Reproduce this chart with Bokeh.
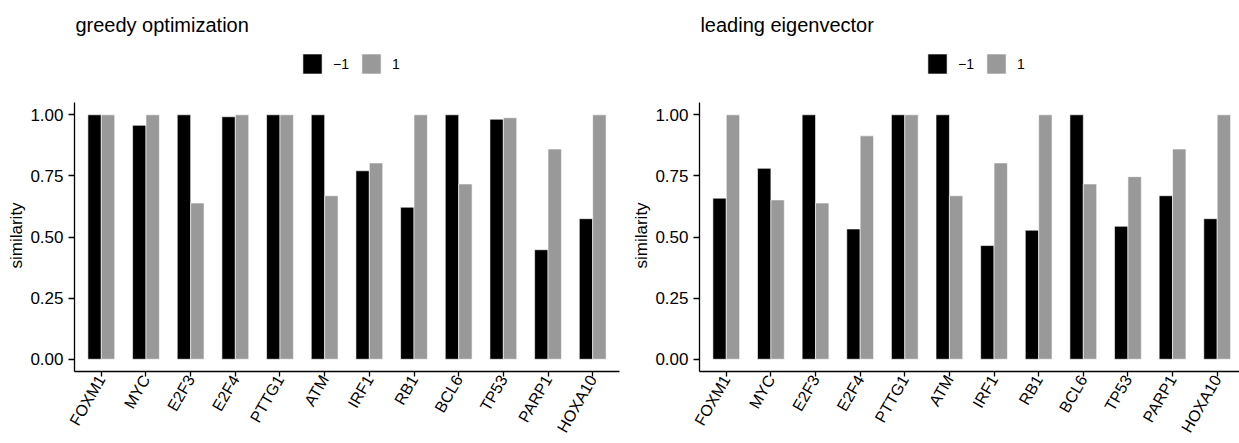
import numpy as np
from bokeh.plotting import figure
from bokeh.models import (Range1d, FixedTicker, Legend, LegendItem, Label,
                          Title, ColumnDataSource)
from bokeh.transform import dodge
from bokeh.layouts import row
from bokeh.embed import file_html
from bokeh.resources import INLINE

genes = ["FOXM1", "MYC", "E2F3", "E2F4", "PTTG1", "ATM", "IRF1", "RB1",
         "BCL6", "TP53", "PARP1", "HOXA10"]
greedy_neg = [1.00, 0.957, 1.00, 0.992, 1.00, 1.00, 0.771, 0.622, 1.00, 0.982, 0.448, 0.575]
greedy_pos = [1.00, 1.00, 0.639, 1.00, 1.00, 0.669, 0.803, 1.00, 0.717, 0.988, 0.860, 1.00]
eigen_neg = [0.659, 0.781, 1.00, 0.533, 1.00, 1.00, 0.465, 0.528, 1.00, 0.544, 0.669, 0.575]
eigen_pos = [1.00, 0.652, 0.639, 0.914, 1.00, 0.669, 0.803, 1.00, 0.717, 0.747, 0.860, 1.00]
panel_titles = ["greedy optimization", "leading eigenvector"]
y_title = "similarity"
groups = ["\u22121", "1"]
group_colors = ["#000000", "#999999"]
y_ticks = [0.0, 0.25, 0.5, 0.75, 1.0]
y_tick_labels = ["0.00", "0.25", "0.50", "0.75", "1.00"]

FONT = "Liberation Sans"
PX_PER_UNIT = 245.0       # vertical pixels per similarity unit
HEADER_PX = 102.3         # space above the panel for title and legend


def make_panel(title, neg, pos, width, left, right, x_end):
    idx = list(range(len(genes)))
    src = ColumnDataSource(dict(x=idx, neg=neg, pos=pos))
    y_top = 1.05 + HEADER_PX / PX_PER_UNIT
    p = figure(width=width, height=443, output_backend="svg", toolbar_location=None,
               x_range=Range1d(-0.6, x_end),
               y_range=Range1d(-0.05, y_top),
               min_border_left=left, min_border_right=right,
               min_border_top=0, min_border_bottom=72)
    p.title.visible = False
    r1 = p.vbar(x=dodge("x", -0.15), top="neg", width=0.3, source=src,
                fill_color=group_colors[0], line_color="white", line_width=0.6)
    r2 = p.vbar(x=dodge("x", 0.15), top="pos", width=0.3, source=src,
                fill_color=group_colors[1], line_color="white", line_width=0.6)
    p.outline_line_color = None
    p.grid.visible = False
    p.background_fill_color = "white"
    p.border_fill_color = "white"

    p.xaxis.ticker = FixedTicker(ticks=idx)
    p.xaxis.major_label_overrides = {i: g for i, g in enumerate(genes)}
    p.xaxis.major_label_orientation = np.pi / 3
    p.yaxis.ticker = FixedTicker(ticks=y_ticks)
    p.yaxis.major_label_overrides = {t: l for t, l in zip(y_ticks, y_tick_labels)}
    p.yaxis.bounds = (-0.05, 1.05)
    for ax in (p.xaxis, p.yaxis):
        ax.axis_line_color = "black"
        ax.axis_line_width = 1.3
        ax.major_tick_line_color = "black"
        ax.major_tick_line_width = 1.3
        ax.major_tick_in = 0
        ax.major_tick_out = 6
        ax.minor_tick_line_color = None
        ax.major_label_text_font = FONT
        ax.major_label_text_font_size = "17px"
        ax.major_label_text_color = "black"
        ax.major_label_standoff = 5
    p.xaxis.major_label_text_font_size = "16px"
    p.xaxis.major_tick_out = 5
    p.xaxis.major_label_standoff = 0

    # y-axis title, centred on the panel (offset from the frame bottom)
    p.add_layout(Title(text=y_title, align="left", offset=103, standoff=4,
                       text_font=FONT, text_font_size="17px",
                       text_font_style="normal", text_color="black"), "left")

    legend = Legend(items=[LegendItem(label=groups[0], renderers=[r1]),
                           LegendItem(label=groups[1], renderers=[r2])],
                    orientation="horizontal", location=(226, 295),
                    glyph_width=24, glyph_height=25, label_standoff=9,
                    label_width=15, spacing=10, padding=0, margin=0,
                    label_text_font=FONT, label_text_font_size="14px",
                    label_text_color="black",
                    border_line_color=None, background_fill_alpha=0)
    p.add_layout(legend, "center")
    title_y = 1.05 + (HEADER_PX - 25) / PX_PER_UNIT
    p.add_layout(Label(x=-0.58, y=title_y, text=title, text_font=FONT,
                       text_font_size="20px", text_color="black",
                       text_align="left", text_baseline="alphabetic"))
    return p


p1 = make_panel(panel_titles[0], greedy_neg, greedy_pos, 620, 74, 1, 11.6)
p2 = make_panel(panel_titles[1], eigen_neg, eigen_pos, 619, 79, 0, 11.5)
layout = row(p1, p2)
open("out.html", "w").write(file_html(layout, INLINE))
